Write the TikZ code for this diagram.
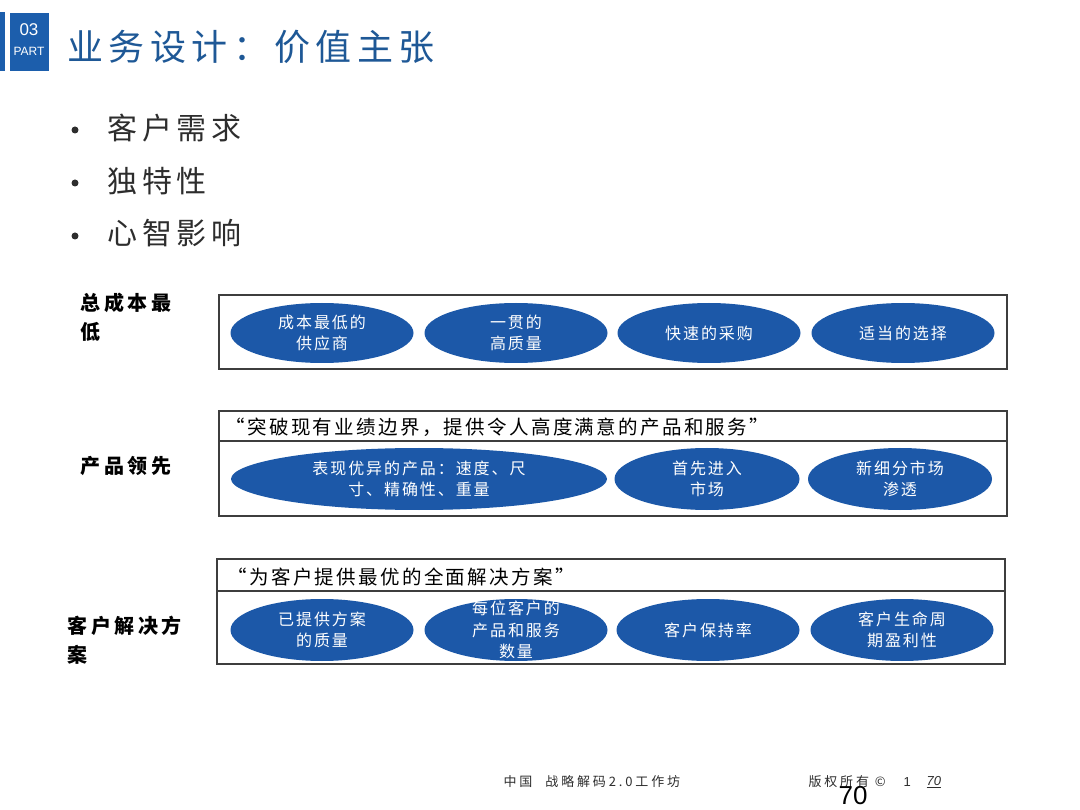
\documentclass[tikz,border=0pt]{standalone}
\usepackage{fontspec}
\setmainfont{Noto Sans CJK SC}
\newfontfamily\latinsans{Liberation Sans}
\usetikzlibrary{shapes.geometric}

\definecolor{titleblue}{RGB}{30,88,150}
\definecolor{partblue}{RGB}{28,94,172}
\definecolor{ovalblue}{RGB}{28,88,168}
\definecolor{framegray}{RGB}{62,62,62}
\definecolor{bodygray}{RGB}{45,45,45}

\tikzset{
  ovalitem/.style={ellipse, fill=ovalblue, text=white, minimum width=183pt,
    minimum height=60pt, inner sep=0pt, align=center,
    font=\fontsize{16}{21}\selectfont\addfontfeature{LetterSpace=12}},
  ovaltext/.style={text=white, align=center, inner sep=0pt,
    font=\fontsize{16}{21.5}\selectfont\addfontfeature{LetterSpace=12}},
  bandframe/.style={draw=framegray, line width=2.4pt, fill=white, inner sep=0pt,
    minimum width=788pt},
  rowlabel/.style={anchor=north west, align=left, text=black,
    font=\fontsize{20}{29}\selectfont\bfseries\addfontfeature{LetterSpace=18}},
  bullettext/.style={anchor=west, text=bodygray,
    font=\fontsize{30}{36}\selectfont\addfontfeature{LetterSpace=15}},
  bulletdot/.style={circle, fill=bodygray, inner sep=0pt, minimum size=7pt},
  quotetext/.style={anchor=west, text=black,
    font=\fontsize{19.5}{22}\selectfont\addfontfeature{LetterSpace=12}},
  footnote/.style={anchor=west, text=bodygray,
    font=\fontsize{13}{15}\selectfont\addfontfeature{LetterSpace=22}},
}

\begin{document}
\begin{tikzpicture}[x=1pt, y=-1pt]
    \useasboundingbox[fill=white] (0,0) rectangle (1080,810);

    % Part marker and title
    \fill[partblue] (0,12) rectangle (5,71);
    \node[fill=partblue, minimum width=39pt, minimum height=58pt, inner sep=0pt] (partbox) at (29,42) {};
    \node[text=white, font=\latinsans\fontsize{17}{18}\selectfont] (partnum) at (29,30) {03};
    \node[text=white, font=\latinsans\fontsize{12}{13}\selectfont] (partword) at (29,51) {PART};
    \node[anchor=west, text=titleblue, font=\fontsize{36}{40}\selectfont\addfontfeature{LetterSpace=15}] (title) at (64,47) {业务设计：价值主张};

    % Bullet list
    \node[bulletdot] (dot1) at (75,130) {};
    \node[bullettext] (need) at (104,128) {客户需求};
    \node[bulletdot] (dot2) at (75,183) {};
    \node[bullettext] (unique) at (104,181) {独特性};
    \node[bulletdot] (dot3) at (75,236) {};
    \node[bullettext] (mind) at (104,233) {心智影响};

    % Row 1: lowest total cost
    \node[rowlabel] (costlabel) at (77,290) {总成本最\\低};
    \node[bandframe, minimum height=74pt] (costband) at (613,332) {};
    \node[ovalitem] (cost1) at (322,333) {成本最低的\\供应商};
    \node[ovalitem] (cost2) at (516,333) {一贯的\\高质量};
    \node[ovalitem] (cost3) at (709,333) {快速的采购};
    \node[ovalitem] (cost4) at (903,333) {适当的选择};

    % Row 2: product leadership
    \node[rowlabel, anchor=west] (prodlabel) at (77,466) {产品领先};
    \node[bandframe, minimum height=30pt] (prodhead) at (613,426) {};
    \node[quotetext] (prodquote) at (222,427) {“突破现有业绩边界，提供令人高度满意的产品和服务”};
    \node[bandframe, minimum height=75pt] (prodband) at (613,478.5) {};
    \node[ovalitem, minimum width=376pt, minimum height=62pt] (prod1) at (419,479) {表现优异的产品：速度、尺\\寸、精确性、重量};
    \node[ovalitem, minimum width=185pt, minimum height=62pt] (prod2) at (707,479) {首先进入\\市场};
    \node[ovalitem, minimum width=184pt, minimum height=62pt] (prod3) at (900,479) {新细分市场\\渗透};

    % Row 3: customer solutions
    \node[rowlabel] (custlabel) at (64,613) {客户解决方\\案};
    \node[bandframe, minimum height=32pt] (custhead) at (611,575) {};
    \node[quotetext] (custquote) at (224,577) {“为客户提供最优的全面解决方案”};
    \node[bandframe, minimum height=73pt] (custband) at (611,627.5) {};
    \node[ovalitem, minimum height=62pt] (cust1) at (322,630) {已提供方案\\的质量};
    \node[ovalitem, minimum height=62pt] (cust2) at (516,630) {};
    \node[ovaltext] (cust2text) at (cust2) {每位客户的\\产品和服务\\数量};
    \node[ovalitem, minimum height=62pt] (cust3) at (708,630) {客户保持率};
    \node[ovalitem, minimum height=62pt] (cust4) at (902,630) {客户生命周\\期盈利性};

    % Footer
    \node[footnote] (footleft) at (500,782) {中国\quad 战略解码2.0工作坊};
    \node[footnote] (footright) at (805,782) {版权所有 ©};
    \node[footnote, font=\latinsans\fontsize{13}{15}\selectfont] (footone) at (900,782) {1};
    \node[footnote, font=\latinsans\itshape\fontsize{13}{15}\selectfont] (footpage) at (923,782) {\underline{70}};
    \node[text=black, font=\latinsans\fontsize{26}{28}\selectfont] (pagenum) at (853,796) {70};

\end{tikzpicture}
\end{document}
